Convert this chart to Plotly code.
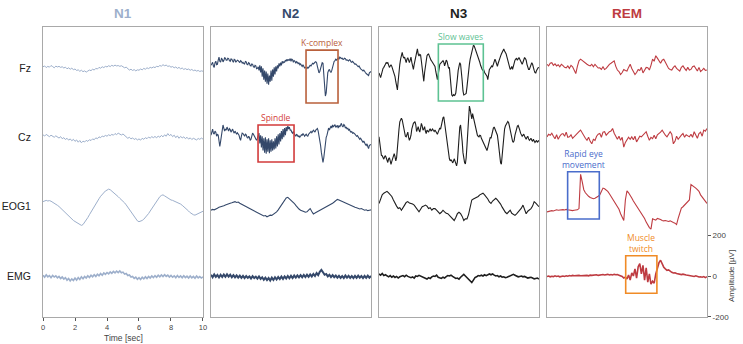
import numpy as np
import plotly.graph_objects as go

# ---------------- data ----------------
stages = ["N1", "N2", "N3", "REM"]
channels = ["Fz", "Cz", "EOG1", "EMG"]
channel_offsets = [1013, 677, 341, 0]          # µV baseline of each channel row
time_ticks = [0, 2, 4, 6, 8, 10]
amp_ticks = [-200, 0, 200]

# amplitudes in µV (relative to channel baseline) over the 10 s epoch
# (101 samples = every 0.1 s, 201 samples = every 0.05 s)
n1_fz = [8, 12, 4, 10, 6, 14, 9, 3, 11, 7, 10, 5, 8, 2, 6, -2, 3, -4, 1, -6,
         -3, -10, -7, -14, -9, -16, -12, -18, -13, -8, -11, -4, -8, 0, -3, 5, 1, 8, 4, 10,
         7, 13, 9, 15, 11, 16, 12, 14, 10, 13, 8, 3, 6, -2, -8, -4, -10, -6, -12, -7,
         -9, -3, -7, 0, -4, 3, -1, 5, 2, 7, 4, 10, 8, 14, 11, 18, 13, 16, 10, 12,
         6, 9, 3, 7, 0, 5, -2, 2, -5, -1, -6, -3, -9, -5, -11, -8, -13, -10, -15, -12, -14]
n1_cz = [12, 6, 14, 8, 3, 10, 5, 0, 7, 2, -4, 3, -7, -2, -11, -5, -14, -8, -17, -10,
         -20, -13, -24, -16, -27, -19, -23, -15, -20, -12, -16, -8, -12, -3, -7, 2, -2, 6, 3, 9,
         5, 12, 8, 14, 10, 18, 13, 20, 15, 11, 16, 8, 3, -5, 0, -8, -3, -11, -6, -13,
         -8, -14, -5, -10, -2, -7, 1, -4, 3, -2, 4, -3, 6, 0, 9, 2, 12, 5, 18, 8,
         14, 3, 10, -2, 7, -5, 4, -3, 2, -7, 0, -9, -3, -11, -5, -8, -13, -6, -10, -4, -9]
n1_eog = [22, 26, 28, 25, 27, 24, 20, 16, 10, 4, -2, -10, -18, -26, -34, -42, -50, -58, -64, -70,
          -75, -80, -84, -88, -94, -90, -80, -68, -56, -42, -28, -14, 0, 12, 24, 36, 48, 58, 66, 74,
          78, 83, 80, 74, 68, 60, 54, 46, 38, 32, 24, 16, 6, -6, -18, -30, -42, -54, -64, -72,
          -76, -74, -70, -64, -56, -46, -36, -24, -12, 0, 12, 24, 36, 46, 52, 55, 50, 44, 38, 34,
          30, 28, 25, 22, 18, 14, 10, 4, -2, -8, -16, -24, -32, -38, -42, -44, -40, -36, -32, -28, -25]
n1_emg = [4, -6, 6, -4, 2, -8, 3, -5, 1, -9, -2, -12, -5, -15, -8, -20, -12, -24, -14, -22,
          -10, -20, -8, -17, -4, -13, -2, -10, 1, -7, 4, -4, 6, -2, 9, 1, 12, 4, 15, 8,
          17, 10, 20, 13, 22, 15, 24, 17, 25, 16, 19, 9, 12, 2, 5, -5, -2, -12, -6, -16,
          -8, -17, -6, -14, -4, -12, -2, -10, 0, -8, 2, -6, 4, -4, 5, -3, 6, -2, 4, -5,
          3, -6, 1, -8, 2, -7, 0, -9, 1, -8, -1, -10, 0, -9, -2, -11, 0, -9, -3, -10, -4]

n2_fz = [15, 25, 30, 12, 5, 28, 35, 18, 20, 40, 55, 35, 30, 48, 45, 32, 38, 52, 50, 40,
         40, 50, 48, 38, 35, 46, 45, 36, 30, 44, 42, 30, 33, 40, 38, 30, 28, 38, 35, 26,
         30, 24, 22, 34, 32, 20, 18, 28, 25, 14, 12, 22, 20, 8, 5, 15, 12, -2, 0, 8,
         -10, 15, -20, 10, -40, 0, -55, -10, -65, -15, -75, -25, -80, -35, -65, -10, -60, -5, -40, 5,
         -30, 10, -15, 15, 0, 25, 10, 28, 15, 35, 25, 32, 30, 40, 35, 45, 38, 42, 40, 48,
         35, 45, 42, 30, 38, 35, 25, 33, 30, 22, 28, 18, 22, 15, 10, 18, 10, 2, 5, 0,
         0, 5, 2, 10, 15, 12, 20, 25, 22, 28, 30, 33, 28, 10, -10, -22, -15, 5, 20, 28,
         25, -40, -110, -135, -120, -60, -20, -10, -5, -15, -20, -10, 10, 25, 35, 38, 45, 40, 48, 50,
         45, 55, 52, 48, 50, 44, 45, 50, 48, 40, 42, 38, 36, 42, 40, 32, 30, 34, 28, 24,
         20, 22, 15, 10, 8, 12, 2, -2, -5, -8, -12, -8, -18, -20, -25, -28, -30, -35, -22, -18,
         -15]
n2_cz = [10, 25, 40, 20, 15, 30, 25, 5, 15, 10, -10, -45, -20, 10, 35, 60, 45, 30, 40, 35,
         50, 35, 30, 42, 38, 25, 30, 40, 28, 20, 30, 25, 15, 22, 18, 10, -5, -15, 5, 20,
         18, 10, 5, 15, 12, 0, -5, 5, 0, -15, -10, 5, 20, 15, 10, 0, -8, -15, -5, 10,
         20, -30, 10, -50, 5, -65, -5, -75, 0, -80, -10, -70, -5, -78, -15, -70, -10, -65, -20, -60,
         -5, -55, 5, -45, 15, -35, 20, -20, 30, -10, 40, 0, 45, 10, 50, 30, 55, 40, 50, 35,
         35, 25, 20, 28, 15, 10, 5, 15, 10, 2, 8, 0, 5, 12, 10, 18, 12, 5, 10, 15,
         8, 5, 15, 20, 25, 28, 22, 30, 35, 30, 25, 35, 40, 43, 30, 10, -15, -40, -75, -105,
         -123, -100, -60, -20, 0, 10, 30, 45, 35, 50, 55, 45, 60, 50, 55, 62, 48, 55, 58, 45,
         58, 50, 60, 68, 55, 50, 62, 58, 45, 50, 40, 45, 35, 38, 30, 25, 28, 20, 22, 15,
         15, 10, 5, 8, 0, -5, -10, -5, -15, -20, -25, -18, -30, -35, -40, -32, -45, -55, -40, -38,
         -35]
n2_eog = [-20, -16, -18, -12, -10, -6, -4, 0, 2, 6, 10, 12, 14, 16, 20, 22, 18, 20, 14, 10,
          6, 2, 0, -6, -8, -12, -16, -22, -28, -32, -36, -40, -44, -48, -46, -52, -48, -44, -45, -40,
          -36, -28, -18, -6, 6, 18, 28, 40, 43, 36, 30, 22, 14, 4, -6, -14, -20, -22, -26, -30,
          -28, -20, -12, -26, -38, -34, -30, -24, -18, -14, -10, -6, -2, 2, 6, 10, 14, 20, 28, 33,
          30, 26, 24, 22, 18, 14, 10, 6, 2, -2, -6, -8, -12, -14, -12, -16, -20, -18, -22, -20, -18]
n2_emg = [6, -6, 8, -4, 5, -7, 6, -5, 7, -4, 8, -3, 6, -6, 4, -7, 3, -8, 2, -9,
          1, -10, 0, -9, -2, -12, -1, -10, -3, -13, -2, -14, -6, -18, -8, -20, -10, -22, -8, -19,
          -6, -17, -5, -15, -3, -14, -2, -12, 0, -11, 1, -10, 2, -8, 3, -7, 4, -6, 5, -5,
          6, -4, 8, -2, 10, 0, 14, 4, 20, 30, 18, 6, 10, -2, 6, -5, 4, -6, 2, -8,
          1, -9, 0, -10, 2, -8, 1, -9, 0, -10, 1, -9, 2, -8, 0, -10, 1, -9, 2, -8, 0]

n3_fz = [-22, -30, -45, -30, -10, 0, 5, 10, 20, 28, 25, 28, 15, 5, 12, 18, 10, 0, -10, -20,
         -40, -65, -90, -105, -60, 0, 20, 45, 70, 78, 60, 50, 55, 35, 28, 45, 52, 40, 28, 40,
         55, 30, 0, -5, 20, 38, 65, 85, 95, 70, 60, 68, 65, 35, 3, -40, -63, -20, 12, 45,
         62, 68, 70, 60, 45, 40, 35, 28, 25, 20, 10, -15, -40, -55, -30, 5, 20, 25, 30, 35,
         38, 30, 12, 25, 40, 35, 15, 0, 5, -40, -110, -130, -135, -128, -132, -130, -120, -95, -50, -10,
         15, 28, 20, -10, -60, -110, -130, -128, -125, -122, -90, -40, 0, 20, 45, 60, 80, 95, 112, 110,
         100, 88, 80, 70, 55, 40, 30, 15, 0, -5, -10, -8, -20, -25, -30, -38, -55, -20, -5, 0,
         5, 12, 8, 20, 30, 45, 35, 15, 10, 25, 40, 55, 60, 70, 80, 90, 95, 85, 78, 70,
         55, 40, 20, 5, -5, 0, 10, -5, 15, 30, 40, 45, 50, 40, 48, 53, 45, 35, 28, 20,
         30, 40, 53, 48, 40, 20, 0, -5, -5, 10, 20, 28, 20, 0, -10, -20, -22, -10, 0, 3,
         5]
n3_cz = [2, -40, -80, -88, -90, -100, -107, -95, -90, -100, -115, -123, -105, -100, -115, -132, -118, -107, -90, -80,
         -95, -115, -100, -40, 0, 40, 75, 85, 93, 85, 60, 35, 20, 5, 2, 20, 25, 0, -15, -5,
         10, 40, 60, 68, 72, 76, 60, 28, 40, 52, 35, 25, 45, 68, 55, 35, 40, 52, 30, 18,
         35, 30, 25, 35, 42, 30, 35, 40, 33, 28, 35, 30, 25, 15, 25, 35, 45, 40, 60, 80,
         95, 100, 70, 35, 10, -10, -40, -80, -105, -115, -110, -115, -125, -118, -105, -115, -130, -140, -120, -60,
         0, 50, 60, 30, -20, -75, -110, -123, -130, -100, -40, 30, 100, 152, 135, 100, 90, 115, 95, 80,
         60, 40, 20, 10, 5, 2, 10, 8, -5, -15, -25, -30, -35, -45, -55, -65, -50, -30, -10, 0,
         -5, 15, 35, 45, 50, 40, 30, 20, 10, -20, -60, -100, -125, -132, -90, -30, 10, 40, 55, 60,
         70, 77, 72, 55, 35, 15, -5, -20, -25, -15, 10, 30, 45, 55, 58, 50, 35, 20, 10, 5,
         10, 15, 5, -5, -10, 0, 5, -8, -15, -10, -5, -15, -20, -10, -15, -25, -20, -15, -25, -15,
         -15]
n3_eog = [13, 35, 55, 63, 68, 72, 65, 58, 47, 30, 13, 0, -12, -8, -20, -10, 5, 18, 22, 15,
          13, 10, 5, -5, -15, -28, -15, -3, 0, 5, 0, -12, -8, -20, -12, -12, -20, -28, -37, -30,
          -20, -28, -35, -37, -45, -53, -60, -70, -55, -37, -30, -37, -50, -70, -62, -62, -40, 0, 30, 35,
          38, 42, 47, 55, 60, 63, 55, 47, 35, 20, 13, 25, 32, 38, 30, 22, 10, -5, -20, -30,
          -37, -30, -20, -35, -40, -45, -38, -30, -20, -10, 5, -15, -37, -25, -20, -12, 0, 22, 15, 5, -3]
n3_emg = [10, 4, 12, 2, 6, 0, -4, 2, -6, 0, -7, -2, -10, -4, 0, 2, -3, 4, -2, -6,
          -8, -4, -10, 0, -2, 3, 0, -4, -6, -10, -15, -8, -12, -4, 0, -2, 4, -6, -8, -12,
          -6, -10, -3, 2, 0, 4, -2, -8, -12, -10, -15, -6, 2, 8, 0, -8, -14, -22, -32, -20,
          -8, -4, 2, 0, 4, 0, 6, 2, 8, 10, 6, 10, 4, 0, 2, -4, 0, -6, -4, -8,
          -6, -2, 2, 6, 8, 4, 0, -4, -2, 0, -4, -2, -6, -10, -8, -6, -10, -14, -12, -10, -15]

rem_fz = [20, 12, 25, 28, 15, 22, 12, 18, 8, 20, 14, 5, 3, 12, 0, 15, 8, -10, -25, 10,
          37, 45, 38, 30, 25, 20, 15, 12, 20, 8, 20, 10, 2, 3, -5, 8, -5, 0, 12, 20,
          25, 30, 37, 10, -8, -15, -30, -20, -5, -10, -13, 5, 20, 0, -15, -30, -20, -5, -10, 5,
          -22, -10, 5, 3, -8, 15, 45, 35, 62, 50, 37, 25, 40, 45, 30, 12, 0, -5, -8, 5,
          12, 0, -5, -13, 5, 12, 0, -10, 5, -8, -5, 8, 12, 0, -13, 5, -15, -8, 0, -10, -8]
rem_cz = [2, 15, 10, 20, 5, -7, 12, -10, 5, 15, 18, 5, 25, 0, 2, 12, -5, 2, 10, 20,
          27, 35, 20, 10, -5, -15, 0, -20, -32, -10, -15, 5, 15, 18, 0, 25, 27, 10, 20, 27,
          30, 43, 20, 2, -10, 5, -15, 0, -48, -25, -15, 0, -10, 2, -12, 5, -23, -10, 5, 2,
          10, 15, 27, 5, -15, 0, -7, 10, -7, 12, 18, 25, 35, 20, 10, 2, 15, 27, 15, -32,
          -20, 5, -10, 2, 10, 18, 0, 12, 5, 2, 15, 0, 27, 10, -5, 18, 25, 5, 35, 30, 43]
rem_eog = [-28, -26, -24, -22, -24, -20, -18, -20, -18, -16, -17, -19, -16, -18, -20, -20, -22, -20, -20, -18,
           -12, 155, 120, 80, 65, 55, 48, 42, 38, 36, 38, 42, 48, 55, 70, 88, 85, 78, 72, 60,
           47, 38, 28, 13, 0, -15, -37, -50, -70, 30, 75, 65, 55, 40, 25, 13, 0, -12, -20, -30,
           -45, -60, -78, -95, -105, -112, -62, -65, -68, -60, -62, -65, -70, -72, -70, -73, -75, -72, -78, -80,
           -83, -90, -60, -35, -10, -3, 5, 15, 22, 30, 105, 100, 95, 88, 80, 72, 55, 45, 35, 25, 13]
rem_emg = [-3, 0, -4, -1, -3, 1, -2, 0, -4, -1, 0, -2, 1, -1, 2, 0, 3, 1, 2, 0,
           3, 1, 2, 4, 2, 3, 1, 4, 3, 5, 4, 6, 3, 5, 4, 7, 5, 6, 8, 5,
           7, 5, 8, 6, 7, 4, 2, -2, -10, -5, -15, 5, -20, 15, 0, 35, -10, 45, 60, 10,
           52, -20, 40, -30, 10, -40, -25, -35, 10, 40, 65, 77, 60, 43, 35, 28, 30, 22, 18, 15,
           16, 12, 10, 8, 7, 9, 6, 5, 4, 3, 2, 0, -2, 1, -3, -5, -4, -6, -3, -8, -3]

signals = {
    "N1": [n1_fz, n1_cz, n1_eog, n1_emg],
    "N2": [n2_fz, n2_cz, n2_eog, n2_emg],
    "N3": [n3_fz, n3_cz, n3_eog, n3_emg],
    "REM": [rem_fz, rem_cz, rem_eog, rem_emg],
}

# highlighted events: label, stage, channel, t start, t end, µV above, µV below baseline
event_labels = ["K-complex", "Spindle", "Slow waves", "Rapid eye<br>movement", "Muscle<br>twitch"]
event_stage = ["N2", "N2", "N3", "REM", "REM"]
event_channel = ["Fz", "Cz", "Fz", "EOG1", "EMG"]
event_t0 = [5.94, 2.94, 3.71, 1.29, 4.92]
event_t1 = [7.94, 5.19, 6.52, 3.27, 6.87]
event_top = [89, 60, 119, 168, 99]
event_bottom = [-169, -121, -159, -63, -84]

# ---------------- style ----------------
stage_colors = {"N1": "#9DAFCB", "N2": "#34486A", "N3": "#1E1E1E", "REM": "#BE3B41"}
event_colors = ["#B9603B", "#D23B3B", "#5DC293", "#4A6DCB", "#F08B26"]
x_domains = [[0.0579, 0.2732], [0.2840, 0.4993], [0.5101, 0.7254], [0.7362, 0.9515]]
y_domain = [0.0785, 0.9215]
y_range = [-200, 1215]
frame_color = "#A9A9A9"

fig = go.Figure()

for i, st in enumerate(stages):
    xa = "x" if i == 0 else f"x{i+1}"
    ya = "y" if i == 0 else f"y{i+1}"
    for c, ch in enumerate(channels):
        vals = np.array(signals[st][c], dtype=float)
        t = np.linspace(0, 10, len(vals))
        if ch == "EMG":
            w = 2.0 if st == "N2" else 1.6
        elif st == "N1":
            w = 1.0
        else:
            w = 1.1
        fig.add_trace(go.Scatter(
            x=t, y=vals + channel_offsets[c], mode="lines",
            line=dict(color=stage_colors[st], width=w),
            xaxis=xa, yaxis=ya, showlegend=False, hoverinfo="skip"))

layout = dict(
    width=743, height=344, margin=dict(l=0, r=0, t=0, b=0, autoexpand=False),
    paper_bgcolor="white", plot_bgcolor="white",
    font=dict(family="Liberation Sans, Arial, sans-serif", color="#333"),
)

for i, st in enumerate(stages):
    xk = "xaxis" if i == 0 else f"xaxis{i+1}"
    yk = "yaxis" if i == 0 else f"yaxis{i+1}"
    anchor_y = "y" if i == 0 else f"y{i+1}"
    anchor_x = "x" if i == 0 else f"x{i+1}"
    xa = dict(domain=x_domains[i], range=[0, 10], anchor=anchor_y, automargin=False,
              showline=True, mirror=True, linecolor=frame_color, linewidth=1,
              showgrid=False, zeroline=False, fixedrange=True)
    if i == 0:
        xa.update(tickvals=time_ticks, ticks="outside", ticklen=3, tickcolor="#555",
                  tickfont=dict(size=7.5, color="#444"), ticklabelstandoff=0)
    else:
        xa.update(showticklabels=False, ticks="")
    ya = dict(domain=y_domain, range=y_range, anchor=anchor_x, automargin=False,
              showline=True, mirror=True, linecolor=frame_color, linewidth=1,
              showgrid=False, zeroline=False, fixedrange=True)
    if i == 0:
        ya.update(tickvals=channel_offsets, ticktext=channels, ticks="",
                  tickfont=dict(size=10.5, color="#222"), ticklabelstandoff=9)
    elif i == 3:
        ya.update(side="right", tickvals=amp_ticks, ticktext=[str(v) for v in amp_ticks],
                  ticks="outside", ticklen=3, tickcolor="#555",
                  tickfont=dict(size=8, color="#444"))
    else:
        ya.update(showticklabels=False, ticks="")
    layout[xk] = xa
    layout[yk] = ya

fig.update_layout(**layout)

annotations = []
for i, st in enumerate(stages):
    annotations.append(dict(
        text=f"<b>{st}</b>", x=(x_domains[i][0] + x_domains[i][1]) / 2, y=1 - 14 / 344,
        xref="paper", yref="paper", xanchor="center", yanchor="middle", showarrow=False,
        font=dict(size=13.5, color=stage_colors[st], family="Liberation Sans, Arial, sans-serif")))

annotations.append(dict(
    text="Time [sec]", x=(x_domains[0][0] + x_domains[0][1]) / 2, y=0,
    xref="paper", yref="paper", xanchor="center", yanchor="bottom", showarrow=False,
    borderpad=0, font=dict(size=8.5, color="#444")))

annotations.append(dict(
    text="Amplitude [µV]", x=731 / 743, y=0, xref="paper", yref="y4", textangle=-90,
    xanchor="center", yanchor="middle",
    showarrow=False, font=dict(size=8, color="#444")))

shapes = []
for k, lab in enumerate(event_labels):
    i = stages.index(event_stage[k])
    xr = "x" if i == 0 else f"x{i+1}"
    yr = "y" if i == 0 else f"y{i+1}"
    base = channel_offsets[channels.index(event_channel[k])]
    shapes.append(dict(type="rect", xref=xr, yref=yr,
                       x0=event_t0[k], x1=event_t1[k],
                       y0=base + event_bottom[k], y1=base + event_top[k],
                       line=dict(color=event_colors[k], width=1.6), fillcolor="rgba(0,0,0,0)"))
    annotations.append(dict(
        text=lab, xref=xr, yref=yr, x=(event_t0[k] + event_t1[k]) / 2, y=base + event_top[k],
        xanchor="center", yanchor="bottom", showarrow=False, yshift=0,
        font=dict(size=8.5, color=event_colors[k], family="Open Sans, sans-serif")))

fig.update_layout(annotations=annotations, shapes=shapes)
fig.write_html("out.html", config={"displayModeBar": False},
               post_script="document.body.style.margin='0';document.body.style.padding='0';")
